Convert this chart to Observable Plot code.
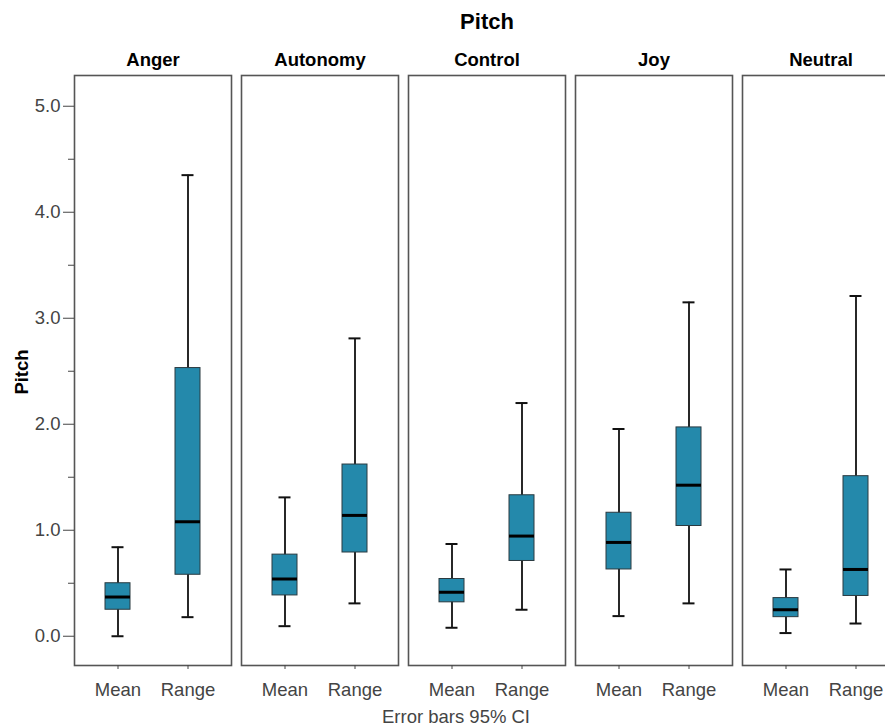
<!DOCTYPE html>
<html><head><meta charset="utf-8">
<script src="https://cdn.jsdelivr.net/npm/d3@7"></script>
<script src="https://cdn.jsdelivr.net/npm/@observablehq/plot@0.6"></script>
<style>
html,body{margin:0;padding:0;background:#fff;overflow:hidden;}
#chart{position:relative;width:885px;height:727px;overflow:hidden;}
#chart svg{display:block;max-width:none !important;width:905px !important;height:727px !important;}
</style></head><body><div id="chart"></div>
<script>
// Categories
const emotions = ["Anger", "Autonomy", "Control", "Joy", "Neutral"];
const stats = ["Mean", "Range"];
// Values per emotion, order [Mean, Range]
const lowValues    = [[0.00, 0.18], [0.095, 0.31], [0.08, 0.25], [0.19, 0.31], [0.03, 0.12]];
const q1Values     = [[0.25, 0.58], [0.385, 0.79], [0.32, 0.71], [0.63, 1.04], [0.18, 0.38]];
const medianValues = [[0.37, 1.08], [0.54, 1.14], [0.415, 0.945], [0.885, 1.425], [0.25, 0.63]];
const q3Values     = [[0.50, 2.53], [0.77, 1.62], [0.54, 1.33], [1.165, 1.97], [0.36, 1.51]];
const highValues   = [[0.84, 4.35], [1.31, 2.81], [0.87, 2.20], [1.955, 3.15], [0.63, 3.21]];
// Tick labels
const majorTicks = [0, 1, 2, 3, 4, 5];
const minorTicks = [0.5, 1.5, 2.5, 3.5, 4.5];

const rows = [];
emotions.forEach((e, i) => stats.forEach((s, j) => rows.push({
  emotion: e, stat: s,
  low: lowValues[i][j], q1: q1Values[i][j], median: medianValues[i][j],
  q3: q3Values[i][j], high: highValues[i][j]
})));

const boxFill = "#2489ab";
const font = "'Liberation Sans', Arial, sans-serif";

const chart = Plot.plot({
  width: 905, height: 727,
  marginLeft: 73, marginRight: 4, marginTop: 75, marginBottom: 62,
  style: {fontFamily: font, background: "#fff"},
  fx: {domain: emotions, paddingInner: 0.057, paddingOuter: 0, label: null},
  x: {domain: stats, paddingInner: 0.648, paddingOuter: 0.43, label: null},
  y: {domain: [-0.276, 5.29], label: null},
  marks: [
    Plot.ruleX(rows, {fx: "emotion", x: "stat", y1: "low", y2: "high", stroke: "#111", strokeWidth: 1.8}),
    Plot.tickY(rows, {fx: "emotion", x: "stat", y: "low", stroke: "#111", strokeWidth: 2, insetLeft: 6.5, insetRight: 6.5}),
    Plot.tickY(rows, {fx: "emotion", x: "stat", y: "high", stroke: "#111", strokeWidth: 2, insetLeft: 6.5, insetRight: 6.5}),
    Plot.barY(rows, {fx: "emotion", x: "stat", y1: "q1", y2: "q3", fill: boxFill, stroke: "#2b3a40", strokeWidth: 1}),
    Plot.tickY(rows, {fx: "emotion", x: "stat", y: "median", stroke: "#000", strokeWidth: 3}),
    Plot.frame({stroke: "#555", strokeWidth: 1.6}),
    Plot.axisY({ticks: majorTicks, tickFormat: d3.format(".1f"), tickSize: 11, tickPadding: 3, fontSize: 18.5, color: "#444", label: null, anchor: "left"}),
    Plot.axisY({ticks: minorTicks, tickFormat: () => "", tickSize: 6, color: "#444", label: null, anchor: "left"}),
    Plot.axisX({tickSize: 4, tickPadding: 13, fontSize: 18.5, color: "#444", label: null}),
    Plot.axisFx({anchor: "top", tickSize: 0, tickPadding: 10, fontSize: 18.5, fontWeight: "bold", color: "#000", label: null})
  ]
});

document.getElementById("chart").appendChild(chart);

const svg = d3.select(chart);
svg.append("text")
  .attr("x", 487).attr("y", 29)
  .attr("text-anchor", "middle")
  .attr("font-size", 22).attr("font-weight", "bold").attr("fill", "#000")
  .text("Pitch");
svg.append("text")
  .attr("transform", "translate(28,372) rotate(-90)")
  .attr("text-anchor", "middle")
  .attr("font-size", 18.5).attr("font-weight", "bold").attr("fill", "#000")
  .text("Pitch");
svg.append("text")
  .attr("x", 456).attr("y", 723)
  .attr("text-anchor", "middle")
  .attr("font-size", 18.5).attr("fill", "#444")
  .text("Error bars 95% CI");
</script>
</body></html>
